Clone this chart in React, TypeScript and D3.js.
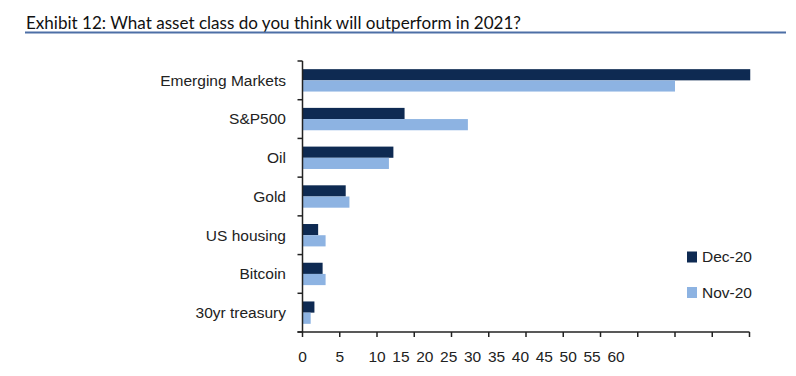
import React from "react";
import * as d3 from "d3";

const title = "Exhibit 12: What asset class do you think will outperform in 2021?";
const categories = ["Emerging Markets", "S&P500", "Oil", "Gold", "US housing", "Bitcoin", "30yr treasury"];
const seriesNames = ["Dec-20", "Nov-20"];
const dec20 = [60.1, 13.7, 12.2, 5.8, 2.1, 2.7, 1.6];
const nov20 = [50.0, 22.2, 11.6, 6.3, 3.1, 3.1, 1.1];
const tickValues = [0, 5, 10, 15, 20, 25, 30, 35, 40, 45, 50, 55, 60];
const tickLabels = ["0", "5", "10", "15", "20", "25", "30", "35", "40", "45", "50", "55", "60"];

const W = 796;
const H = 376;
const colors = ["#0e2a52", "#8db3e2"];
const font = "'Liberation Sans', Arial, sans-serif";

export default function App() {
  const x = d3.scaleLinear().domain([0, 60]).range([302.5, 749.5]);
  const y = d3.scaleBand<string>().domain(categories).range([61, 332]).paddingInner(0).paddingOuter(0);
  const inner = d3.scaleBand<string>().domain(seriesNames).range([0, y.bandwidth()]).paddingInner(0).paddingOuter(0.73);
  const series = [dec20, nov20];
  // labels are packed more tightly than tick marks after "10" in the original
  const labelStep = 23.9;
  const labelX = (v: number) => (v <= 10 ? x(v) : x(10) + ((v - 10) / 5) * labelStep);
  const axisY = 332;

  return (
    <svg width={W} height={H} style={{ position: "absolute", left: 0, top: 0, background: "#fff" }}>
      <text x={26} y={29} fontFamily="Lato, 'Open Sans', sans-serif" fontSize={17.5} fill="#111"
        textLength={495} lengthAdjust="spacingAndGlyphs">{title}</text>
      <line x1={25} x2={786} y1={32.5} y2={32.5} stroke="#4d6fa6" strokeWidth={2} />

      {categories.map((c, i) => (
        <g key={c}>
          {series.map((s, j) => (
            <rect key={j} x={x(0)} y={(y(c) as number) + (inner(seriesNames[j]) as number)}
              width={x(s[i]) - x(0)} height={inner.bandwidth()} fill={colors[j]} />
          ))}
          <text x={286} y={(y(c) as number) + y.bandwidth() / 2} dy="0.35em" textAnchor="end"
            fontFamily={font} fontSize={15.5} fill="#222">{c}</text>
        </g>
      ))}

      {/* y axis */}
      <line x1={x(0)} x2={x(0)} y1={61} y2={axisY} stroke="#222" strokeWidth={1.5} />
      {categories.map((c) => (
        <line key={"t" + c} x1={x(0) - 5} x2={x(0)} y1={y(c) as number} y2={y(c) as number} stroke="#222" strokeWidth={1.5} />
      ))}
      <line x1={x(0) - 5} x2={x(0)} y1={axisY} y2={axisY} stroke="#222" strokeWidth={1.5} />

      {/* x axis */}
      <line x1={x(0) - 5} x2={x(60)} y1={axisY} y2={axisY} stroke="#222" strokeWidth={1.5} />
      {tickValues.map((v, i) => (
        <g key={"x" + v}>
          <line x1={x(v)} x2={x(v)} y1={axisY} y2={axisY + 5} stroke="#222" strokeWidth={1.5} />
          <text x={labelX(v)} y={362} textAnchor="middle" fontFamily={font} fontSize={15.5} fill="#222">{tickLabels[i]}</text>
        </g>
      ))}

      {/* legend */}
      {seriesNames.map((n, j) => (
        <g key={n} transform={`translate(687, ${257 + j * 35.5})`}>
          <rect x={0} y={-5.5} width={10} height={11} fill={colors[j]} />
          <text x={15} y={0} dy="0.35em" fontFamily={font} fontSize={15.5} fill="#222">{n}</text>
        </g>
      ))}
    </svg>
  );
}
